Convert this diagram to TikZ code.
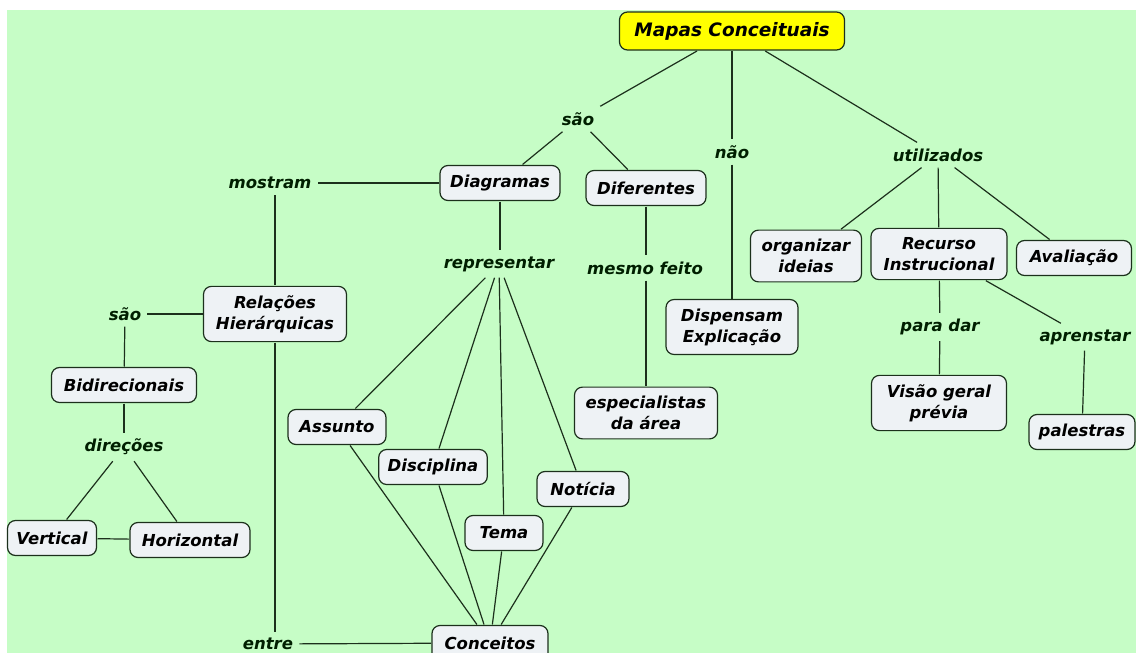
\documentclass[tikz,border=0pt]{standalone}
\usepackage{fontspec}
\setmainfont{DejaVu Sans}
\definecolor{fundo}{HTML}{C6FDC6}
\definecolor{caixa}{HTML}{EEF2F5}
\definecolor{traco}{HTML}{1C301C}
\definecolor{amarelo}{HTML}{FFFF00}
\tikzset{
  conceito/.style={draw=traco, line width=1.2pt, rounded corners=8pt, fill=caixa,
    inner xsep=9pt, inner ysep=9pt, minimum height=35pt, align=center, outer sep=1pt,
    font=\fontsize{16.5}{21}\selectfont\bfseries\itshape},
  ligacao/.style={inner sep=6pt, text=black!88!green,
    font=\fontsize{16.5}{21}\selectfont\bfseries\itshape},
  linha/.style={draw=traco, line width=1.2pt}
}
\begin{document}
\begin{tikzpicture}[x=1pt,y=-1pt]

\useasboundingbox (0,0) rectangle (1136,653);
\fill[white] (0,0) rectangle (1136,653);
\fill[fundo] (7,10) rectangle (1136,653);

% topo
\node[conceito, fill=amarelo, minimum width=225pt, minimum height=38pt,
  font=\fontsize{18.5}{22}\selectfont\bfseries\itshape] (mapas) at (732,31) {Mapas Conceituais};
\node[ligacao] (sao) at (578,119) {são};
\node[ligacao] (nao) at (732,152) {não};
\node[ligacao] (utilizados) at (938,155) {utilizados};
\draw[linha] (mapas) to (sao);
\draw[linha] (mapas) to (nao);
\draw[linha] (mapas) to (utilizados);

% ramo central
\node[conceito, minimum width=120pt] (diagramas) at (500,183) {Diagramas};
\node[conceito, minimum width=120pt] (diferentes) at (646,188) {Diferentes};
\node[ligacao] (mostram) at (270,183) {mostram};
\node[ligacao] (representar) at (499,264) {representar};
\node[ligacao] (mesmo) at (645,268) {mesmo feito};
\node[conceito, minimum width=143pt] (especialistas) at (646,413) {especialistas\\da área};
\draw[linha] (sao) to (diagramas);
\draw[linha] (sao) to (diferentes);
\draw[linha] (diagramas) to (mostram);
\draw[linha] (diagramas.south) to (diagramas.south |- representar.north);
\draw[linha] (diferentes.south) to (diferentes.south |- mesmo.north);
\draw[linha] (mesmo.south -| especialistas.north) to (especialistas.north);

\node[conceito, minimum width=132pt] (dispensam) at (732,327) {Dispensam\\Explicação};
\draw[linha] (nao) to (dispensam);

% ramo direito
\node[conceito, minimum width=111pt] (organizar) at (806,256) {organizar\\ideias};
\node[conceito, minimum width=136pt] (recurso) at (939,254) {Recurso\\Instrucional};
\node[conceito, minimum width=115pt] (avaliacao) at (1074,258) {Avaliação};
\node[ligacao] (paradar) at (940,327) {para dar};
\node[ligacao] (aprenstar) at (1085,337) {aprenstar};
\node[conceito, minimum width=135pt] (visao) at (939,403) {Visão geral\\prévia};
\node[conceito, minimum width=106pt] (palestras) at (1082,432) {palestras};
\draw[linha] (utilizados) to (organizar);
\draw[linha] (utilizados) to (recurso);
\draw[linha] (utilizados) to (avaliacao);
\draw[linha] (recurso) to (paradar);
\draw[linha] (paradar) to (visao);
\draw[linha] (recurso) to (aprenstar);
\draw[linha] (aprenstar) to (palestras);

% ramo esquerdo
\node[conceito, minimum width=143pt] (relacoes) at (275,314) {Relações\\Hierárquicas};
\node[ligacao] (saoesq) at (125,314) {são};
\node[conceito, minimum width=145pt] (bidirecionais) at (124,385) {Bidirecionais};
\node[ligacao] (direcoes) at (124,447) {direções};
\node[conceito, minimum width=89pt] (vertical) at (52,538) {Vertical};
\node[conceito, minimum width=120pt] (horizontal) at (190,540) {Horizontal};
\node[ligacao] (entre) at (268,644) {entre};
\draw[linha] (mostram.south -| relacoes.north) to (relacoes.north);
\draw[linha] (relacoes) to (saoesq);
\draw[linha] (saoesq) to (bidirecionais);
\draw[linha] (bidirecionais) to (direcoes);
\draw[linha] (direcoes) to (vertical);
\draw[linha] (direcoes) to (horizontal);
\draw[linha] (vertical) to (horizontal);
\draw[linha] (relacoes.south) to (relacoes.south |- entre.north);

% conceitos
\node[conceito, minimum width=98pt] (assunto) at (337,427) {Assunto};
\node[conceito, minimum width=101pt] (disciplina) at (433,467) {Disciplina};
\node[conceito, minimum width=78pt] (tema) at (504,533) {Tema};
\node[conceito, minimum width=92pt] (noticia) at (583,489) {Notícia};
\node[conceito, minimum width=116pt] (conceitos) at (490,643) {Conceitos};
\draw[linha] (representar) to (assunto);
\draw[linha] (representar) to (disciplina);
\draw[linha] (representar) to (tema);
\draw[linha] (representar) to (noticia);
\draw[linha] (assunto) to (conceitos);
\draw[linha] (disciplina) to (conceitos);
\draw[linha] (tema) to (conceitos);
\draw[linha] (noticia) to (conceitos);
\draw[linha] (entre) to (conceitos);

\end{tikzpicture}
\end{document}
